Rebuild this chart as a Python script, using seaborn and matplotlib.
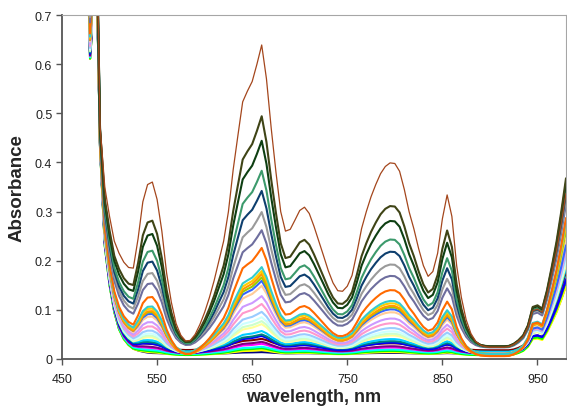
import numpy as np
import pandas as pd
import matplotlib
matplotlib.use("Agg")
import matplotlib.pyplot as plt
import seaborn as sns

# Sampling wavelengths (nm): fine steps across the UV cut-off, then every 5 nm
wavelength_nm = [476, 478, 479.5, 481, 482, 484, 486, 488,
                 490, 495, 500, 505, 510, 515, 520, 525, 530, 535, 540,
                 545, 550, 555, 560, 565, 570, 575, 580, 585, 590, 595,
                 600, 605, 610, 615, 620, 625, 630, 635, 640, 645,
                 650, 655, 660, 665, 670, 675, 680, 685, 690, 695,
                 700, 705, 710, 715, 720, 725, 730, 735, 740, 745,
                 750, 755, 760, 765, 770, 775, 780, 785, 790, 795,
                 800, 805, 810, 815, 820, 825, 830, 835, 840, 845,
                 850, 855, 860, 865, 870, 875, 880, 885, 890, 895,
                 900, 905, 910, 915, 920, 925, 930, 935, 940, 945,
                 950, 955, 960, 965, 970, 975, 980]

# Shared UV absorption edge (common to every sample)
uv_edge = [0.85, 0.72, 0.60, 0.64, 0.75, 0.82, 0.80, 0.62,
           0.42, 0.22, 0.14, 0.085, 0.05, 0.03, 0.018, 0.01, 0.006, 0.003, 0.001] + [0.0] * 88

# Visible/NIR band system of the strongest sample, normalised to 1 at 660 nm
band_profile = [0.25, 0.25, 0.25, 0.25, 0.25, 0.25, 0.22, 0.10,
                0.04, 0.164, 0.197, 0.205, 0.222, 0.225, 0.227, 0.238, 0.343, 0.471, 0.532,
                0.542, 0.484, 0.378, 0.238, 0.140, 0.069, 0.030, 0.011, 0.013, 0.033, 0.066,
                0.107, 0.156, 0.213, 0.279, 0.345, 0.443, 0.583, 0.698, 0.810, 0.846,
                0.878, 0.936, 1.000, 0.887, 0.722, 0.575, 0.443, 0.378, 0.384, 0.415,
                0.447, 0.458, 0.437, 0.394, 0.345, 0.296, 0.246, 0.205, 0.179, 0.177,
                0.194, 0.230, 0.304, 0.386, 0.443, 0.493, 0.534, 0.570, 0.594, 0.606,
                0.604, 0.578, 0.517, 0.443, 0.386, 0.320, 0.263, 0.227, 0.243, 0.304,
                0.419, 0.499, 0.427, 0.263, 0.156, 0.082, 0.036, 0.010, -0.003, -0.008,
                -0.010, -0.010, -0.010, -0.010, -0.008, -0.006, -0.005, -0.005, -0.005, -0.005,
                -0.005, -0.005, -0.005, -0.005, -0.005, -0.005, -0.005]

# Near-infrared rise, normalised to 1 at 980 nm
nir_rise = [0.0] * 95 + [0.01, 0.03, 0.06, 0.12, 0.23,
                         0.24, 0.22, 0.33, 0.47, 0.62, 0.80, 1.00]

# One spectrum per sample
sample_colors = ["#A4461C", "#3F4416", "#0E3F12", "#3C9A6C", "#0E3F6E", "#9A9A9A",
                 "#6E6E9E", "#FF6A00", "#33CCCC", "#FFCC00", "#FF9900", "#99CC00",
                 "#3366FF", "#FFCC99", "#CC99FF", "#FF99CC", "#99CCFF", "#CCFFFF",
                 "#CCFFCC", "#FFFF99", "#00CCFF", "#008080", "#0000FF", "#800000",
                 "#800080", "#FF00FF", "#00FFFF", "#00FF00", "#FFFF00", "#000080"]
band_height = [0.609, 0.464, 0.414, 0.355, 0.314, 0.271, 0.236, 0.218, 0.175, 0.167,
               0.165, 0.154, 0.147, 0.137, 0.116, 0.100, 0.084, 0.073, 0.065, 0.059,
               0.042, 0.035, 0.035, 0.023, 0.023, 0.019, 0.015, 0.014, 0.010, 0.004]
base_offset = [0.030, 0.030, 0.030, 0.028, 0.028, 0.028, 0.026, 0.008, 0.012, 0.012,
               0.008, 0.012, 0.012, 0.012, 0.012, 0.012, 0.012, 0.012, 0.012, 0.012,
               0.015, 0.015, 0.012, 0.018, 0.012, 0.012, 0.010, 0.008, 0.008, 0.010]
nir_height = [0.31, 0.34, 0.33, 0.32, 0.31, 0.30, 0.29, 0.28, 0.27, 0.26,
              0.27, 0.25, 0.22, 0.23, 0.22, 0.21, 0.20, 0.19, 0.19, 0.18,
              0.17, 0.17, 0.15, 0.16, 0.15, 0.15, 0.16, 0.15, 0.14, 0.14]

x_ticks = [450, 550, 650, 750, 850, 950]
y_ticks = [0, 0.1, 0.2, 0.3, 0.4, 0.5, 0.6, 0.7]
y_tick_labels = ["0", "0.1", "0.2", "0.3", "0.4", "0.5", "0.6", "0.7"]

wl = np.array(wavelength_nm)
edge = np.array(uv_edge)
band = np.array(band_profile)
nir = np.array(nir_rise)

frames = []
for i, color in enumerate(sample_colors):
    absorbance = edge + base_offset[i] + band_height[i] * band + nir_height[i] * nir
    frames.append(pd.DataFrame({"wavelength": wl, "absorbance": absorbance,
                                "sample": f"s{i + 1:02d}"}))
spectra = pd.concat(frames, ignore_index=True)
sample_names = [f"s{i + 1:02d}" for i in range(len(sample_colors))]
palette = dict(zip(sample_names, sample_colors))

sns.set_theme(style="white")
plt.rcParams["font.family"] = ["Liberation Sans", "DejaVu Sans"]

fig = plt.figure(figsize=(5.67, 4.10), dpi=100)
ax = fig.add_axes([62 / 567, 1 - 360 / 410, 504 / 567, 344 / 410])

# weakest samples first so the strong spectra sit on top
draw_order = sample_names[::-1]
sns.lineplot(data=spectra, x="wavelength", y="absorbance", hue="sample",
             hue_order=draw_order, palette=palette, sort=False, legend=False,
             linewidth=1.5, estimator=None, ax=ax)
for line in ax.lines:
    line.set_solid_joinstyle("round")
ax.lines[-1].set_linewidth(0.9)

ax.set_xlim(450, 980)
ax.set_ylim(0, 0.7)
ax.set_xticks(x_ticks)
ax.set_yticks(y_ticks)
ax.set_yticklabels(y_tick_labels)
ax.tick_params(axis="both", which="both", direction="out", length=4, width=1,
               color="#555555", labelsize=9, labelcolor="#222222", pad=3)
ax.tick_params(axis="x", pad=6)
ax.xaxis.set_ticks_position("bottom")
ax.yaxis.set_ticks_position("left")

for side in ["left", "bottom"]:
    ax.spines[side].set_color("#555555")
    ax.spines[side].set_linewidth(1.3)
for side in ["top", "right"]:
    ax.spines[side].set_color("#A6A6A6")
    ax.spines[side].set_linewidth(0.8)

ax.set_xlabel("wavelength, nm", fontsize=13, fontweight="bold", labelpad=2)
ax.set_ylabel("Absorbance", fontsize=13.5, fontweight="bold", labelpad=7)

fig.savefig("out.png", dpi=100)
